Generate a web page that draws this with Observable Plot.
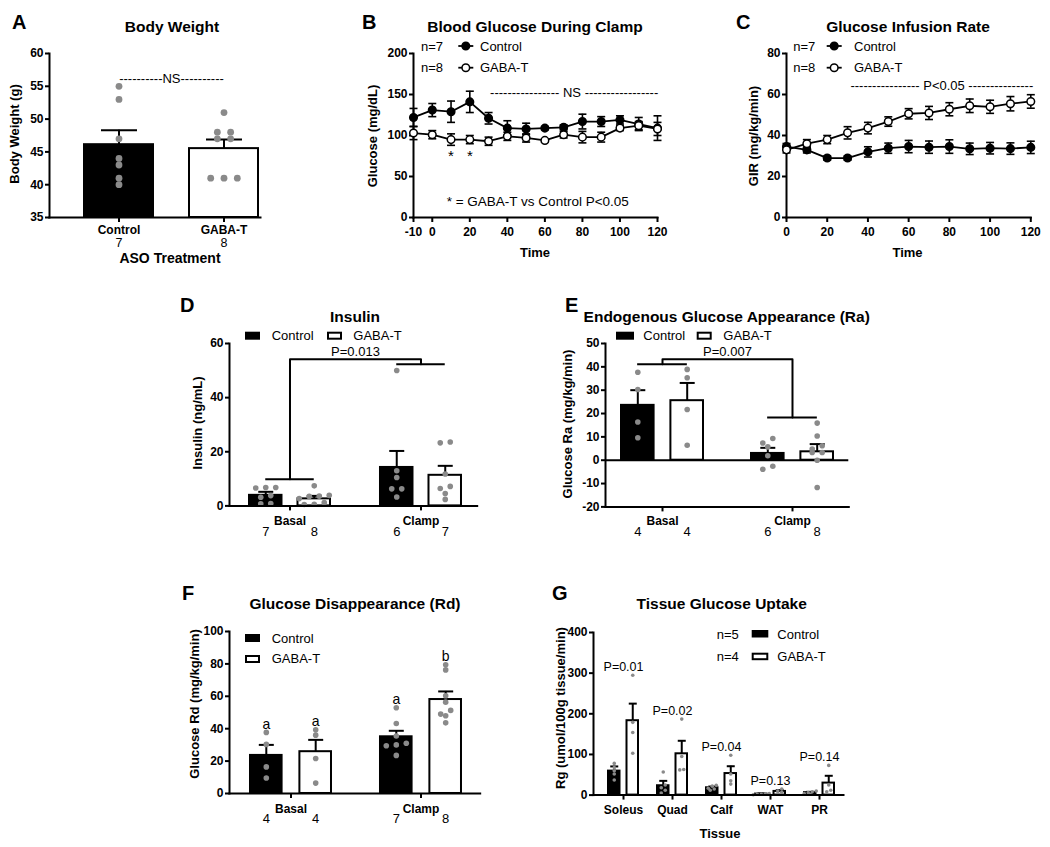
<!DOCTYPE html>
<html><head><meta charset="utf-8">
<script src="https://cdn.jsdelivr.net/npm/d3@7"></script>
<script src="https://cdn.jsdelivr.net/npm/@observablehq/plot@0.6"></script>
<style>
html,body{margin:0;padding:0;background:#fff;}
#fig{position:relative;width:1050px;height:847px;overflow:hidden;background:#fff;}
</style></head><body><div id="fig"></div>
<script>
// ================= DATA =================
// A: Body weight
const groupsA = ["Control", "GABA-T"];
const nA = [7, 8];
const bodyWeightMean = [46.1, 45.5];
const bodyWeightSem = [2.2, 1.4];
const bodyWeightDots = [[55, 53, 47, 44, 43, 41, 40], [51, 48, 48, 47, 47, 41, 41, 41]];
const nsLabelA = "----------NS----------";
const nsYA = 56.2;

// B: Blood glucose during clamp
const timeB = [-10, 0, 10, 20, 30, 40, 50, 60, 70, 80, 90, 100, 110, 120];
const glucoseControlMean = [122, 131, 129, 141, 121, 109, 108, 109, 110, 117, 117, 119, 114, 109];
const glucoseControlSem = [11, 8, 13, 13, 7, 9, 7, 2, 3, 9, 6, 5, 8, 15];
const glucoseGabaMean = [103, 101, 95, 95, 93, 99, 97, 94, 101, 98, 98, 109, 112, 108];
const glucoseGabaSem = [8, 5, 7, 5, 5, 5, 5, 2, 4, 7, 6, 3, 5, 8];
const xTicksB = [-10, 0, 20, 40, 60, 80, 100, 120];
const yTicksB = [0, 50, 100, 150, 200];
const nsLabelB = "---------------- NS -----------------";
const nsPosB = {t: 75.6, y: 152};
const asteriskTimes = [10, 20];
const asteriskY = 82;
const footnoteB = "* = GABA-T vs Control P<0.05";
const footnotePosB = {t: 7.7, y: 18.7};

// C: Glucose infusion rate
const timeC = [0, 10, 20, 30, 40, 50, 60, 70, 80, 90, 100, 110, 120];
const girControlMean = [34.6, 33, 29, 29, 32, 33.8, 34.6, 34.3, 34.6, 33.5, 33.8, 33.6, 34.2];
const girControlSem = [1.5, 1.5, 1, 1, 2.5, 2.5, 3, 3, 3.3, 2.8, 2.8, 2.8, 3];
const girGabaMean = [33, 36, 38, 41.3, 43.6, 46.8, 50.6, 51, 52.8, 54.5, 54, 55.5, 56.6];
const girGabaSem = [1.5, 2, 2, 3, 2.8, 2.3, 2.5, 3.2, 3.2, 3.3, 3.2, 3.5, 3.3];
const xTicksC = [0, 20, 40, 60, 80, 100, 120];
const yTicksC = [0, 20, 40, 60, 80];
const pLabelC = "---------------- P<0.05 ---------------";
const pPosC = {t: 76.3, y: 64};

// D: Insulin
const phases = ["Basal", "Clamp"];
const insulinControlMean = [3.9, 14.2];
const insulinControlSem = [1.3, 6.1];
const insulinGabaMean = [2.6, 11.3];
const insulinGabaSem = [1.1, 3.5];
const insulinControlN = [7, 6];
const insulinGabaN = [8, 7];
const insulinControlDots = [[6.8, 6.6, 6.8, 3.8, 3.2, 0.8, 0.9], [50, 13, 10.5, 6.3, 6.3, 3.3]];
const insulinGabaDots = [[7.4, 3.9, 3.6, 3.5, 2.7, 1.2, 0.6, 0.5], [23.6, 23.3, 11.8, 7.2, 6.4, 4.6, 2.4]];
const insulinBracket = {from: "Basal", to: "Clamp", fromY: 9.8, topY: 54.2, toY: 52.3, labelY: 57, label: "P=0.013"};

// E: Endogenous glucose appearance (Ra)
const raControlMean = [23.5, 2.9];
const raControlSem = [6.5, 2.4];
const raGabaMean = [25.5, 3.6];
const raGabaSem = [7.6, 3.3];
const raControlN = [4, 6];
const raGabaN = [4, 8];
const raControlDots = [[37.7, 30.3, 16.4, 9.6], [9.3, 7.4, 5.7, 1.9, -2.6, -3.9]];
const raGabaDots = [[38.9, 35.3, 21.7, 6.4], [15.9, 10.4, 6.2, 4.8, 3.3, 3.3, 0, -11.7]];
const raBracket = {from: "Basal", to: "Clamp", fromY: 41.1, topY: 43.3, toY: 18.3, labelY: 46.4, label: "P=0.007"};

// F: Glucose disappearance (Rd)
const rdControlMean = [23.5, 35];
const rdControlSem = [6.5, 3.7];
const rdGabaMean = [25.8, 58];
const rdGabaSem = [7.3, 5];
const rdControlN = [4, 7];
const rdGabaN = [4, 8];
const rdControlDots = [[37.7, 30.3, 16.4, 9.6], [52.9, 43.2, 35.5, 31, 30, 29.5, 23.5]];
const rdGabaDots = [[39.3, 36, 21.6, 6.4], [79.4, 76.3, 60.3, 56.4, 51.3, 49, 48, 43.6]];
const rdControlLetters = ["a", "a"];
const rdGabaLetters = ["a", "b"];

// G: Tissue glucose uptake
const tissues = ["Soleus", "Quad", "Calf", "WAT", "PR"];
const rgControlMean = [59, 23, 18, 2.5, 6];
const rgControlSem = [11.5, 12, 3, 1.5, 2];
const rgGabaMean = [183, 101.6, 53, 9, 29.5];
const rgGabaSem = [42, 32, 18, 3, 18];
const rgControlDots = [[78, 68, 60, 52, 37], [57, 25, 18, 12, 5], [24, 22, 17, 15, 12], [4, 3, 2, 2, 1], [10, 8, 6, 4, 2]];
const rgGabaDots = [[295, 179, 154, 103], [187, 95, 63, 62], [98, 52, 35, 27], [15, 10, 7, 4], [73, 25, 12, 8]];
const rgPLabels = ["P=0.01", "P=0.02", "P=0.04", "P=0.13", "P=0.14"];

// ================= STYLE / HELPERS =================
const FONT = '"Liberation Sans", Arial, Helvetica, sans-serif';
const DOT = "#8a8a8a";
const capSym = {draw(ctx, size) { const w = Math.sqrt(size / Math.PI); ctx.moveTo(-w, 0); ctx.lineTo(w, 0); }};
const M = {l: 60, t: 30, r: 20, b: 50};
const svgStyle = {fontFamily: FONT, fontSize: "12px", color: "black", background: "transparent", overflow: "visible"};
const fmt = d => `${d}`;

function box(f) {
  return {left: f.x0 - M.l, top: f.y0 - M.t, width: f.x1 - f.x0 + M.l + M.r, height: f.y1 - f.y0 + M.t + M.b};
}
function mount(plot, b) {
  plot.style.position = "absolute";
  plot.style.left = b.left + "px";
  plot.style.top = b.top + "px";
  document.getElementById("fig").appendChild(plot);
}
function dodge(values, ppu, gapPx, spacing) {
  const order = d3.range(values.length).sort((a, b) => values[b] - values[a]);
  const offs = new Array(values.length).fill(0);
  let row = [];
  const flush = () => {
    const r = row.slice().sort((a, b) => values[a] - values[b]);
    r.forEach((i, k) => { offs[i] = (k - (r.length - 1) / 2) * spacing; });
    row = [];
  };
  for (const i of order) {
    if (row.length && (values[row[0]] - values[i]) * ppu > gapPx) flush();
    row.push(i);
  }
  flush();
  return offs;
}
function axes(xOpts, yOpts) {
  return [
    Plot.frame({anchor: "left", strokeWidth: 2}),
    Plot.frame({anchor: "bottom", strokeWidth: 2}),
    Plot.axisX({tickSize: 5, fontSize: 12, fontWeight: "bold", strokeWidth: 2, label: null, ...xOpts}),
    Plot.axisY({tickSize: 4, tickPadding: 2, fontSize: 12, fontWeight: "bold", strokeWidth: 2, label: null, tickFormat: fmt, ...yOpts})
  ];
}

function barPanel(cfg) {
  const {frame: f, cats, yDomain, yTicks, L, S, P, w, series, dotR, dotGap, dotSpacing, capHalf, tickPadding, countDy, countSize = 13, extra} = cfg;
  const b = box(f);
  const n = cats.length, nb = series.length;
  const gap = nb > 1 ? (P - nb * w) / (nb - 1) : 0;
  const ppu = (f.y1 - f.y0) / (yDomain[1] - yDomain[0]);
  const base = Math.max(0, yDomain[0]);
  const bars = [], errs = [], dots = [], texts = [];
  series.forEach((s, k) => {
    const lead = k * (w + gap);
    const dx = -P / 2 + lead + w / 2;
    const recs = cats.map((c, i) => ({cat: c, mean: s.mean[i], sem: s.sem[i], n: s.n ? s.n[i] : null,
      top: d3.max(s.dots[i]), letter: s.letters ? s.letters[i] : ""}));
    bars.push(Plot.barY(recs, {x: "cat", y1: base, y2: "mean", fill: s.fill, stroke: "black", strokeWidth: 2,
      insetLeft: lead, insetRight: P - w - lead}));
    errs.push(Plot.ruleX(recs, {x: "cat", y1: "mean", y2: d => d.mean + d.sem, dx, stroke: "black", strokeWidth: 2}));
    errs.push(Plot.dot(recs, {x: "cat", y: d => d.mean + d.sem, dx, symbol: capSym, r: capHalf, stroke: "black", strokeWidth: 2}));
    const dr = [];
    cats.forEach((c, i) => {
      const vals = s.dots[i];
      const offs = dodge(vals, ppu, dotGap, dotSpacing);
      vals.forEach((v, j) => dr.push({cat: c, v, off: offs[j]}));
    });
    for (const [off, arr] of d3.group(dr, d => d.off)) {
      dots.push(Plot.dot(arr, {x: "cat", y: "v", dx: dx + off, r: dotR, fill: DOT}));
    }
    if (s.n) texts.push(Plot.text(recs, {x: "cat", y: yDomain[0], text: d => String(d.n), dx, dy: countDy, lineAnchor: "top", fontSize: countSize}));
    if (s.letters) texts.push(Plot.text(recs, {x: "cat", y: "top", text: "letter", dx, dy: -3.5, lineAnchor: "bottom", fontSize: 14}));
  });
  const plot = Plot.plot({
    width: b.width, height: b.height,
    marginLeft: M.l, marginTop: M.t, marginRight: M.r, marginBottom: M.b,
    x: {type: "band", domain: cats, range: [L - b.left, L + (n - 1) * S + P - b.left], paddingInner: 1 - P / S, paddingOuter: 0},
    y: {domain: yDomain},
    style: svgStyle,
    marks: [
      ...(cfg.before || []),
      ...bars, ...errs, ...dots,
      ...axes({tickPadding}, {ticks: yTicks}),
      ...texts,
      ...(extra ? extra({S, P, w}) : [])
    ]
  });
  mount(plot, b);
}

function linePanel(cfg) {
  const {frame: f, xDomain, xTicks, yDomain, yTicks, time, series, extra} = cfg;
  const b = box(f);
  const marks = [];
  series.forEach(s => {
    const recs = time.map((t, i) => ({t, m: s.mean[i], e: s.sem[i]}));
    marks.push(Plot.line(recs, {x: "t", y: "m", stroke: "black", strokeWidth: 1.8}));
    marks.push(Plot.ruleX(recs, {x: "t", y1: d => d.m - d.e, y2: d => d.m + d.e, stroke: "black", strokeWidth: 1.6}));
    marks.push(Plot.dot(recs, {x: "t", y: d => d.m + d.e, symbol: capSym, r: 4, stroke: "black", strokeWidth: 1.6}));
    marks.push(Plot.dot(recs, {x: "t", y: d => d.m - d.e, symbol: capSym, r: 4, stroke: "black", strokeWidth: 1.6}));
    marks.push(Plot.dot(recs, {x: "t", y: "m", r: 3.8, fill: s.fill, stroke: "black", strokeWidth: 1.5}));
  });
  const plot = Plot.plot({
    width: b.width, height: b.height,
    marginLeft: M.l, marginTop: M.t, marginRight: M.r, marginBottom: M.b,
    x: {domain: xDomain}, y: {domain: yDomain},
    style: svgStyle,
    marks: [
      ...axes({ticks: xTicks, tickPadding: 5, tickFormat: fmt}, {ticks: yTicks}),
      ...marks,
      ...(extra ? extra() : [])
    ]
  });
  mount(plot, b);
}

function bracket(bk, w, S) {
  return [
    Plot.tickY([{cat: bk.from, y: bk.fromY}], {x: "cat", y: "y", insetLeft: w / 2, insetRight: w / 2, strokeWidth: 2}),
    Plot.tickY([{cat: bk.to, y: bk.toY}], {x: "cat", y: "y", insetLeft: w / 2, insetRight: w / 2, strokeWidth: 2}),
    Plot.line([{cat: bk.from, y: bk.fromY}, {cat: bk.from, y: bk.topY}, {cat: bk.to, y: bk.topY}, {cat: bk.to, y: bk.toY}],
      {x: "cat", y: "y", stroke: "black", strokeWidth: 2}),
    Plot.text([bk.label], {x: () => bk.from, y: bk.labelY, dx: S / 2, fontSize: 13})
  ];
}

// ================= PANELS =================
// A
barPanel({
  frame: {x0: 49, y0: 53, x1: 260, y1: 217},
  cats: groupsA, yDomain: [35, 60], yTicks: [35, 40, 45, 50, 55, 60],
  L: 84, S: 105, P: 69, w: 69,
  series: [{mean: bodyWeightMean, sem: bodyWeightSem, dots: bodyWeightDots, n: nA,
    fill: d => d.cat === "Control" ? "black" : "white"}],
  dotR: 3.4, dotGap: 4, dotSpacing: 13.3, capHalf: 18, tickPadding: 3, countDy: 20.5, countSize: 12.5,
  extra: ({S}) => [Plot.text([nsLabelA], {x: () => groupsA[0], y: nsYA, dx: S / 2, fontSize: 13})]
});

// B
linePanel({
  frame: {x0: 412.7, y0: 53, x1: 656.7, y1: 217},
  xDomain: [-10, 120], xTicks: xTicksB, yDomain: [0, 200], yTicks: yTicksB, time: timeB,
  series: [{mean: glucoseControlMean, sem: glucoseControlSem, fill: "black"},
           {mean: glucoseGabaMean, sem: glucoseGabaSem, fill: "white"}],
  extra: () => [
    Plot.text([nsLabelB], {x: nsPosB.t, y: nsPosB.y, fontSize: 13}),
    Plot.text(asteriskTimes, {x: d => d, y: asteriskY, text: () => "*", lineAnchor: "top", fontSize: 15}),
    Plot.text([footnoteB], {x: footnotePosB.t, y: footnotePosB.y, textAnchor: "start", fontSize: 13.5})
  ]
});

// C
linePanel({
  frame: {x0: 785.7, y0: 53, x1: 1030, y1: 217},
  xDomain: [0, 120], xTicks: xTicksC, yDomain: [0, 80], yTicks: yTicksC, time: timeC,
  series: [{mean: girControlMean, sem: girControlSem, fill: "black"},
           {mean: girGabaMean, sem: girGabaSem, fill: "white"}],
  extra: () => [Plot.text([pLabelC], {x: pPosC.t, y: pPosC.y, fontSize: 13})]
});

// D
barPanel({
  frame: {x0: 229, y0: 343.3, x1: 476.7, y1: 505.7},
  cats: phases, yDomain: [0, 60], yTicks: [0, 20, 40, 60],
  L: 249, S: 131, P: 81, w: 32.5,
  series: [
    {mean: insulinControlMean, sem: insulinControlSem, dots: insulinControlDots, n: insulinControlN, fill: "black"},
    {mean: insulinGabaMean, sem: insulinGabaSem, dots: insulinGabaDots, n: insulinGabaN, fill: "white"}
  ],
  dotR: 2.8, dotGap: 4.5, dotSpacing: 10, capHalf: 7.5, tickPadding: 6, countDy: 21,
  extra: ({S, w}) => bracket(insulinBracket, w, S)
});

// E
barPanel({
  frame: {x0: 605, y0: 343.3, x1: 848.3, y1: 506.7},
  cats: phases, yDomain: [-20, 50], yTicks: [-20, -10, 0, 10, 20, 30, 40, 50],
  L: 621, S: 130, P: 81.7, w: 32.3,
  series: [
    {mean: raControlMean, sem: raControlSem, dots: raControlDots, n: raControlN, fill: "black"},
    {mean: raGabaMean, sem: raGabaSem, dots: raGabaDots, n: raGabaN, fill: "white"}
  ],
  dotR: 2.8, dotGap: 5, dotSpacing: 10, capHalf: 7.5, tickPadding: 5, countDy: 20,
  before: [Plot.ruleY([0], {strokeWidth: 2})],
  extra: ({S, w}) => bracket(raBracket, w, S)
});

// F
barPanel({
  frame: {x0: 229.3, y0: 630.7, x1: 480, y1: 792.7},
  cats: phases, yDomain: [0, 100], yTicks: [0, 20, 40, 60, 80, 100],
  L: 250, S: 130.7, P: 81.7, w: 32.3,
  series: [
    {mean: rdControlMean, sem: rdControlSem, dots: rdControlDots, n: rdControlN, letters: rdControlLetters, fill: "black"},
    {mean: rdGabaMean, sem: rdGabaSem, dots: rdGabaDots, n: rdGabaN, letters: rdGabaLetters, fill: "white"}
  ],
  dotR: 2.8, dotGap: 4.5, dotSpacing: 10, capHalf: 7.5, tickPadding: 6, countDy: 20.6
});

// G
barPanel({
  frame: {x0: 593.3, y0: 631.7, x1: 843.3, y1: 794.3},
  cats: tissues, yDomain: [0, 400], yTicks: [0, 100, 200, 300, 400],
  L: 606.7, S: 49.6, P: 30, w: 11.5,
  series: [
    {mean: rgControlMean, sem: rgControlSem, dots: rgControlDots, fill: "black"},
    {mean: rgGabaMean, sem: rgGabaSem, dots: rgGabaDots, fill: "white"}
  ],
  dotR: 1.8, dotGap: 3, dotSpacing: 4, capHalf: 4, tickPadding: 5, countDy: 20,
  extra: () => [Plot.text(tissues.map((t, i) => ({cat: t, y: d3.max(rgGabaDots[i]), label: rgPLabels[i]})),
    {x: "cat", y: "y", text: "label", dy: -4, lineAnchor: "bottom", fontSize: 12.5})]
});

// ================= OVERLAY TEXT (titles, letters, axis labels, legends) =================
const ov = d3.select("#fig").append("svg").attr("width", 1050).attr("height", 847)
  .style("position", "absolute").style("left", "0px").style("top", "0px").style("pointer-events", "none")
  .attr("font-family", FONT);
function T(x, y, s, o = {}) {
  const t = ov.append("text").attr("x", x).attr("y", y).text(s)
    .attr("font-size", o.size ?? 13).attr("font-weight", o.bold ? "bold" : "normal")
    .attr("text-anchor", o.anchor ?? "start").attr("fill", "black");
  if (o.rotate) t.attr("transform", `rotate(${o.rotate},${x},${y})`);
}
function swatch(x, y, w, h, filled) {
  if (filled) ov.append("rect").attr("x", x).attr("y", y).attr("width", w).attr("height", h).attr("fill", "black");
  else ov.append("rect").attr("x", x + 1).attr("y", y + 1).attr("width", w - 2).attr("height", h - 2)
    .attr("fill", "white").attr("stroke", "black").attr("stroke-width", 2);
}
function lineKey(x1, x2, y, filled) {
  ov.append("line").attr("x1", x1).attr("x2", x2).attr("y1", y).attr("y2", y).attr("stroke", "black").attr("stroke-width", 1.8);
  ov.append("circle").attr("cx", (x1 + x2) / 2).attr("cy", y).attr("r", 3.8)
    .attr("fill", filled ? "black" : "white").attr("stroke", "black").attr("stroke-width", 1.5);
}

// panel letters
[["A", 12, 29], ["B", 362, 29], ["C", 736, 29], ["D", 180, 312], ["E", 565, 312], ["F", 182, 600], ["G", 552, 600]]
  .forEach(([s, x, y]) => T(x, y, s, {size: 20, bold: true}));
// titles
[["Body Weight", 172, 32], ["Blood Glucose During Clamp", 535, 32], ["Glucose Infusion Rate", 908, 32],
 ["Insulin", 355, 321.5], ["Endogenous Glucose Appearance (Ra)", 726.7, 321.5],
 ["Glucose Disappearance (Rd)", 355, 608.5], ["Tissue Glucose Uptake", 721.7, 608.5]]
  .forEach(([s, x, y]) => T(x, y, s, {size: 15.5, bold: true, anchor: "middle"}));
// y-axis labels
[["Body Weight (g)", 18.5, 134], ["Glucose (mg/dL)", 377, 136], ["GIR (mg/kg/min)", 758, 136],
 ["Insulin (ng/mL)", 201.5, 423], ["Glucose Ra (mg/kg/min)", 571.5, 424],
 ["Glucose Rd (mg/kg/min)", 199, 704], ["Rg (umol/100g tissue/min)", 564.5, 708]]
  .forEach(([s, x, y]) => T(x, y, s, {size: 13, bold: true, anchor: "middle", rotate: -90}));
// x-axis labels
T(170, 262.5, "ASO Treatment", {size: 14, bold: true, anchor: "middle"});
T(535, 256.7, "Time", {size: 13, bold: true, anchor: "middle"});
T(907.5, 256.7, "Time", {size: 13, bold: true, anchor: "middle"});
T(720, 838.3, "Tissue", {size: 13, bold: true, anchor: "middle"});

// legends B / C
T(421, 50.5, "n=7"); lineKey(458.3, 473.3, 46, true); T(480, 50.5, "Control");
T(421, 72, "n=8"); lineKey(458.3, 473.3, 67.7, false); T(480, 72, "GABA-T");
T(793.3, 50.5, "n=7"); lineKey(826.7, 841.7, 46, true); T(854, 50.5, "Control");
T(793.3, 72, "n=8"); lineKey(826.7, 841.7, 67.7, false); T(854, 72, "GABA-T");
// legend D
swatch(245, 331.7, 15, 8, true); T(271.7, 339.5, "Control");
swatch(327, 331.7, 15, 8, false); T(353.3, 339.5, "GABA-T");
// legend E
swatch(616, 331.7, 18, 8, true); T(643.3, 339.5, "Control");
swatch(696.7, 331.7, 15, 8, false); T(723.3, 339.5, "GABA-T");
// legend F
swatch(245, 634, 15, 8, true); T(271.7, 642.5, "Control");
swatch(245, 655, 15, 8, false); T(271.7, 663, "GABA-T");
// legend G
T(716.7, 638.5, "n=5"); swatch(751.7, 630, 16.6, 7.5, true); T(777.3, 638.5, "Control");
T(716.7, 661, "n=4"); swatch(751.7, 652.7, 16.6, 7.5, false); T(777.3, 661, "GABA-T");
</script>
</body></html>
